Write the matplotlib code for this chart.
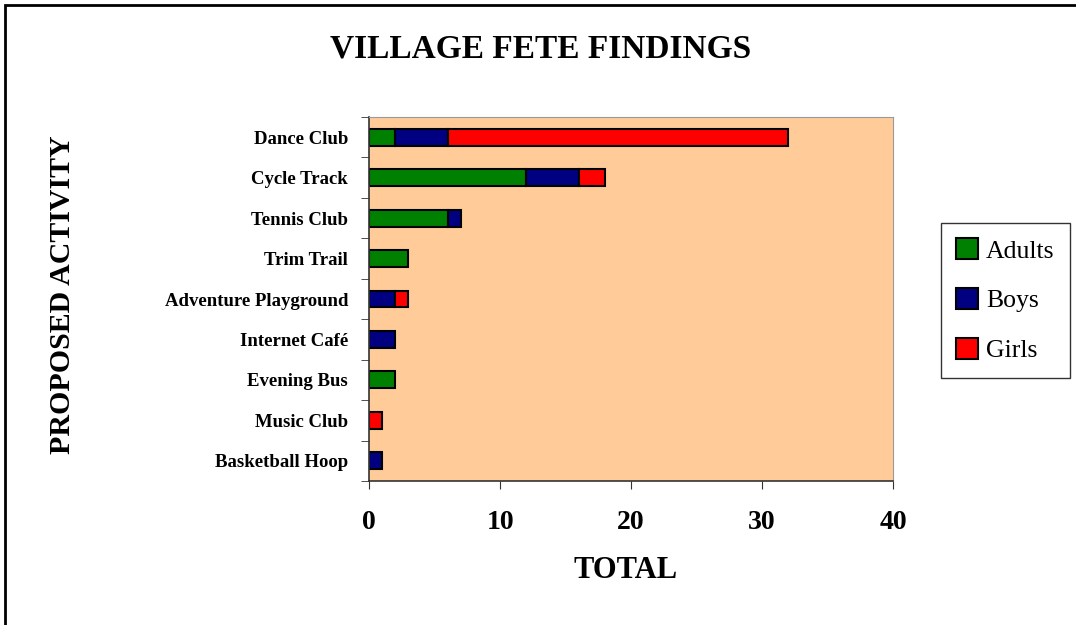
import numpy as np
import matplotlib.pyplot as plt
from matplotlib.patches import Rectangle

# data, bottom to top as drawn
activities = ["Basketball Hoop", "Music Club", "Evening Bus", "Internet Café",
              "Adventure Playground", "Trim Trail", "Tennis Club", "Cycle Track",
              "Dance Club"]
adults = [0, 0, 2, 0, 0, 3, 6, 12, 2]
boys = [1, 0, 0, 2, 2, 0, 1, 4, 4]
girls = [0, 1, 0, 0, 1, 0, 0, 2, 26]
series = ["Adults", "Boys", "Girls"]
colors = ["#008000", "#000080", "#FF0000"]
x_ticks = [0, 10, 20, 30, 40]

plt.rcParams['font.family'] = ['Liberation Serif', 'DejaVu Serif']

fig = plt.figure(figsize=(10.76, 6.25), dpi=100)
ax = fig.add_axes([0.343, 0.2304, 0.487, 0.5824])
ax.set_facecolor("#FFCC99")

# stacked horizontal bars
y = np.arange(len(activities))
left = np.zeros(len(activities))
for name, vals, c in zip(series, [adults, boys, girls], colors):
    vals = np.array(vals, dtype=float)
    mask = vals > 0
    ax.barh(y[mask], vals[mask], left=left[mask], height=0.42, color=c,
            edgecolor="black", linewidth=1.5, label=name)
    left += vals

ax.set_xlim(0, 40)
ax.set_ylim(-0.5, len(activities) - 0.5)
ax.set_xticks(x_ticks)
ax.set_xticklabels([str(t) for t in x_ticks], fontsize=20, fontweight="bold")
ax.tick_params(axis="x", direction="out", length=6, pad=15, color="#333333")

ax.set_yticks(y)
ax.set_yticklabels(activities, fontsize=13.5, fontweight="bold")
ax.tick_params(axis="y", length=0, pad=15)
ax.set_yticks(np.arange(len(activities) + 1) - 0.5, minor=True)
ax.tick_params(axis="y", which="minor", direction="out", length=6, color="#333333")

for s in ["top", "right"]:
    ax.spines[s].set_color("#999999")
for s in ["left", "bottom"]:
    ax.spines[s].set_color("#333333")
    ax.spines[s].set_linewidth(1.2)

# axis titles and chart title
fig.text(0.5817, 1 - 570 / 625, "TOTAL", ha="center", va="center",
         fontsize=22, fontweight="bold")
fig.text(63 / 1076, 1 - 295 / 625, "PROPOSED ACTIVITY", ha="center", va="center",
         rotation=90, fontsize=21.5, fontweight="bold")
fig.text(0.502, 1 - 58 / 625, "VILLAGE FETE FINDINGS", ha="center", va="baseline",
         fontsize=24, fontweight="bold")

leg = fig.legend(loc="upper left", bbox_to_anchor=(941 / 1076, 1 - 223 / 625),
                 frameon=True, fancybox=False, fontsize=18.5, handlelength=0.85,
                 handleheight=0.85, handletextpad=0.3, labelspacing=1.0,
                 borderpad=0.6, borderaxespad=0)
leg.get_frame().set_edgecolor("black")
leg.get_frame().set_linewidth(1.0)

# outer chart border (top and left visible)
fig.add_artist(Rectangle((5 / 1076, -0.1), 1.2, 1 - 5 / 625 + 0.1,
                         transform=fig.transFigure, fill=False,
                         edgecolor="black", linewidth=2))

fig.savefig("out.png", dpi=100)
